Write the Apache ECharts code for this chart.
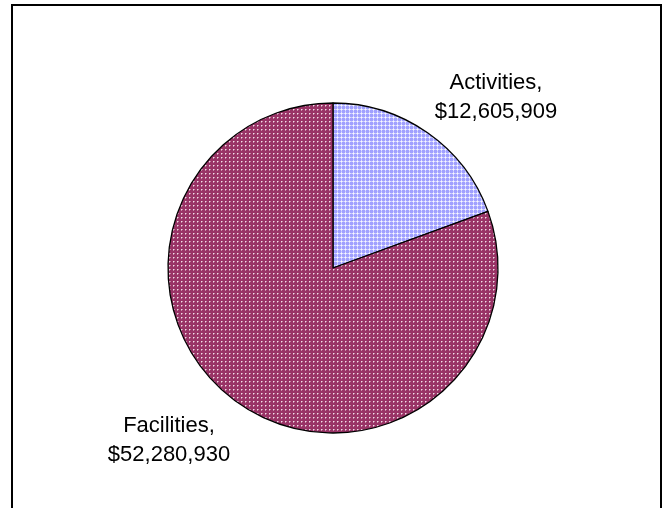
<!DOCTYPE html>
<html>
<head>
<meta charset="utf-8">
<script src="https://cdn.jsdelivr.net/npm/echarts@6/dist/echarts.min.js"></script>
<style>
html,body{margin:0;padding:0;background:#fff;}
#chart{width:668px;height:508px;}
</style>
</head>
<body>
<div id="chart"></div>
<script>
var categories = ["Activities", "Facilities"];
var values = [12605909, 52280930];

function makeTile(draw) {
  var c = document.createElement('canvas');
  c.width = 4; c.height = 4;
  var ctx = c.getContext('2d');
  draw(ctx);
  return c;
}
var activitiesTile = makeTile(function (ctx) {
  ctx.fillStyle = '#a0a0ff'; ctx.fillRect(0, 0, 4, 4);
  ctx.fillStyle = '#c4c4ff'; ctx.fillRect(0, 1, 4, 1); ctx.fillRect(1, 0, 1, 4);
  ctx.fillStyle = '#e0e0ff';
  ctx.fillRect(0, 1, 1, 1); ctx.fillRect(2, 1, 1, 1); ctx.fillRect(1, 0, 1, 1); ctx.fillRect(1, 2, 1, 1);
  ctx.fillStyle = '#f8f8ff'; ctx.fillRect(1, 1, 1, 1);
});
var facilitiesTile = makeTile(function (ctx) {
  ctx.fillStyle = '#993366'; ctx.fillRect(0, 0, 4, 4);
  ctx.fillStyle = '#c58aa6'; ctx.fillRect(2, 1, 1, 1); ctx.fillRect(1, 2, 1, 1);
  ctx.fillStyle = '#f3dde8'; ctx.fillRect(1, 1, 1, 1);
});
var patterns = [
  { image: activitiesTile, repeat: 'repeat' },
  { image: facilitiesTile, repeat: 'repeat' }
];
var labelPos = [[496, 97], [169, 440]];

var chart = echarts.init(document.getElementById('chart'), null, { renderer: 'canvas' });
chart.setOption({
  animation: false,
  backgroundColor: '#ffffff',
  graphic: [{
    type: 'rect',
    shape: { x: 12, y: 5, width: 649, height: 530 },
    style: { fill: 'none', stroke: '#000', lineWidth: 2 },
    silent: true
  }],
  series: [{
    type: 'pie',
    center: [333, 268],
    radius: 165,
    startAngle: 90,
    clockwise: true,
    data: categories.map(function (n, i) {
      return { name: n, value: values[i], itemStyle: { color: patterns[i] } };
    }),
    itemStyle: { borderColor: '#000', borderWidth: 1.3 },
    label: {
      show: true,
      position: 'outside',
      fontFamily: 'Liberation Sans, Arial, sans-serif',
      fontSize: 22,
      lineHeight: 29,
      color: '#000',
      align: 'center',
      formatter: function (p) {
        return p.name + ',\n$' + p.value.toLocaleString('en-US');
      }
    },
    labelLine: { show: false },
    labelLayout: function (p) {
      var pos = labelPos[p.dataIndex];
      return { x: pos[0], y: pos[1], align: 'center', verticalAlign: 'middle' };
    },
    emphasis: { disabled: true }
  }]
});
</script>
</body>
</html>
